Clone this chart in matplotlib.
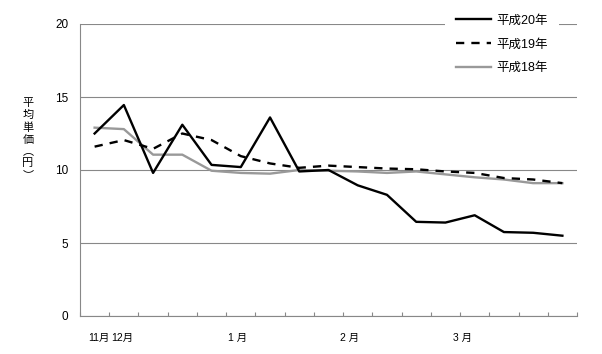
import matplotlib
matplotlib.use("Agg")
import matplotlib.pyplot as plt
import numpy as np

plt.rcParams['font.family'] = ['Liberation Sans', 'Noto Sans CJK JP', 'DejaVu Sans']

h20 = [12.5, 14.45, 9.8, 13.1, 10.35, 10.2, 13.6, 9.9, 10.0, 8.95, 8.3, 6.45, 6.4, 6.9, 5.75, 5.7, 5.5]
h19 = [11.6, 12.05, 11.45, 12.5, 12.05, 10.95, 10.45, 10.15, 10.3, 10.2, 10.1, 10.05, 9.9, 9.8, 9.45, 9.35, 9.1]
h18 = [12.9, 12.8, 11.05, 11.05, 9.95, 9.8, 9.75, 10.0, 9.95, 9.9, 9.8, 9.9, 9.7, 9.5, 9.35, 9.1, 9.1]
series_names = ['平成20年', '平成19年', '平成18年']
month_labels = ['11月', '12月', '1 月', '2 月', '3 月']
month_pos = [0.13, 0.95, 4.88, 8.71, 12.58]
yticks = [0, 5, 10, 15, 20]

fig = plt.figure(figsize=(6.02, 3.54), dpi=100)
ax = fig.add_axes([80/602, 1-316/354, (577-80)/602, (316-24)/354])

x = np.arange(len(h20))
ax.plot(x, h20, color='black', lw=1.7, label=series_names[0], zorder=5)
ax.plot(x, h19, color='black', lw=1.7, ls=(0, (3.5, 3)), label=series_names[1], zorder=4)
ax.plot(x, h18, color='#999999', lw=1.7, label=series_names[2], zorder=3)

ax.set_xlim(-0.5, len(h20) - 0.5)
ax.set_ylim(0, 20)
ax.set_yticks(yticks)
ax.yaxis.grid(True, color='#888888', lw=0.8)
ax.set_axisbelow(True)
ax.tick_params(axis='y', length=0, pad=8.5, labelsize=8.5)
ax.set_xticks(month_pos)
ax.set_xticklabels(month_labels)
ax.set_xticks(np.arange(-0.5, len(h20)), minor=True)
ax.tick_params(axis='x', which='major', length=0, pad=12, labelsize=7.5)
ax.tick_params(axis='x', which='minor', length=3, direction='in', color='#888888', width=0.8)
for s in ['top', 'right']:
    ax.spines[s].set_visible(False)
for s in ['left', 'bottom']:
    ax.spines[s].set_color('#888888')
    ax.spines[s].set_linewidth(0.8)

leg = fig.legend(loc='upper left', bbox_to_anchor=(439/602, 1 - (-3)/354),
                 fontsize=9, frameon=True, fancybox=False, handlelength=2.8,
                 handletextpad=0.4, labelspacing=0.95, borderpad=0.9)
frame = leg.get_frame()
frame.set_facecolor('white')
frame.set_edgecolor('white')
frame.set_linewidth(0)
frame.set_alpha(1)

fig.text(28/602, 1 - 139/354, '平\n均\n単\n価\n︵\n円\n︶', ha='center', va='center',
         fontsize=8, linespacing=1.22, family=['Noto Sans CJK JP'])

fig.savefig('out.png', dpi=100)
